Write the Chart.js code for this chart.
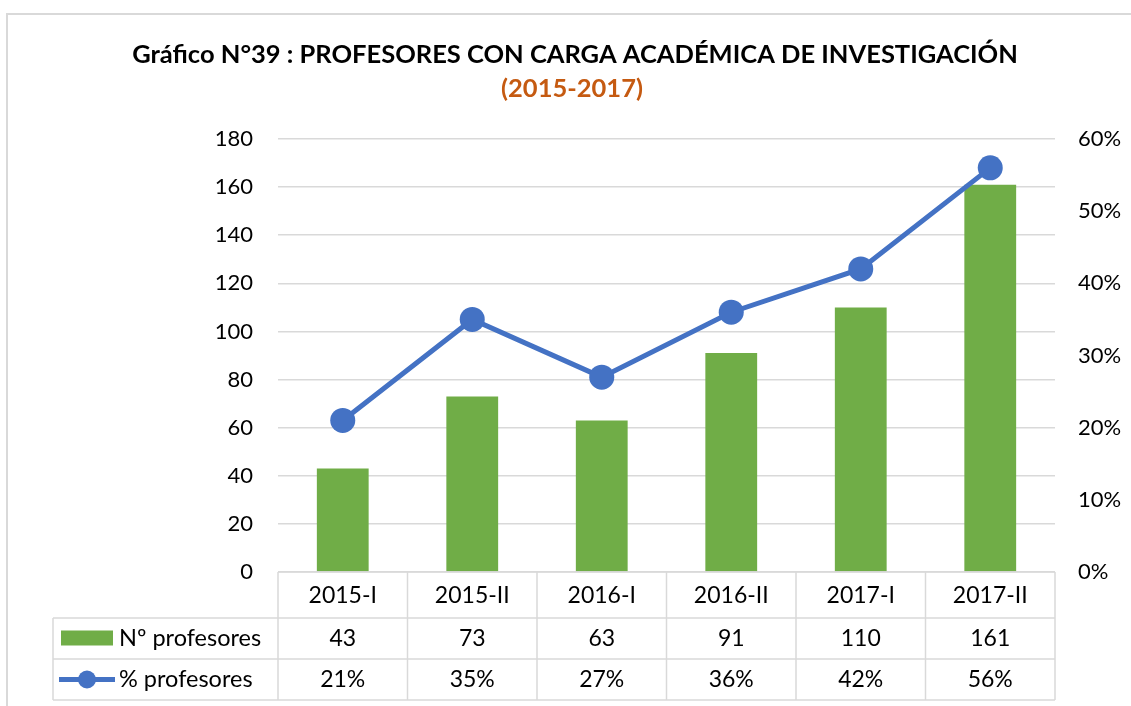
<!DOCTYPE html>
<html>
<head>
<meta charset="utf-8">
<script src="https://cdn.jsdelivr.net/npm/chart.js@4.4.1/dist/chart.umd.min.js"></script>
<style>
  html, body { margin: 0; padding: 0; background: #fff; }
</style>
</head>
<body>
<canvas id="grafico" width="1131" height="706"></canvas>
<script>
// Datos del gráfico
const periodos = ['2015-I', '2015-II', '2016-I', '2016-II', '2017-I', '2017-II'];
const nProfesores = [43, 73, 63, 91, 110, 161];
const pctProfesores = [21, 35, 27, 36, 42, 56];
const etiquetaN = 'Nº profesores';
const etiquetaPct = '% profesores';

const VERDE = '#70AD47';
const AZUL = '#4472C4';
const GRIS = '#d9d9d9';
const FUENTE = 'Lato, "Open Sans", sans-serif';
const TAM = 22;

// Marco, título y tabla de datos bajo el gráfico
const tablaDatos = {
    id: 'tablaDatos',
    beforeDraw(chart) {
        const ctx = chart.ctx;
        ctx.save();
        ctx.fillStyle = '#fff';
        ctx.fillRect(0, 0, chart.width, chart.height);
        ctx.strokeStyle = GRIS;
        ctx.lineWidth = 2;
        ctx.strokeRect(7, 14, 1200, 800);

        ctx.textAlign = 'center';
        ctx.textBaseline = 'middle';
        ctx.fillStyle = '#000';
        ctx.font = 'bold 25.5px ' + FUENTE;
        ctx.fillText('Gráfico N°39 : PROFESORES CON CARGA ACADÉMICA DE INVESTIGACIÓN', 575, 55);
        ctx.fillStyle = '#C55A11';
        ctx.fillText('(2015-2017)', 572, 89);
        ctx.restore();
    },
    afterDraw(chart) {
        const ctx = chart.ctx;
        const a = chart.chartArea;
        const x = chart.scales.x;
        const ancho = (a.right - a.left) / periodos.length;
        const filas = [a.bottom, 618, 659, 700];
        const izqLeyenda = 53;

        ctx.save();
        ctx.strokeStyle = GRIS;
        ctx.lineWidth = 1.5;
        ctx.beginPath();
        ctx.moveTo(a.left, filas[0]);
        ctx.lineTo(a.right, filas[0]);
        for (let r = 1; r < filas.length; r++) {
            ctx.moveTo(izqLeyenda, filas[r]);
            ctx.lineTo(a.right, filas[r]);
        }
        for (let i = 0; i <= periodos.length; i++) {
            const xx = a.left + i * ancho;
            ctx.moveTo(xx, filas[0]);
            ctx.lineTo(xx, filas[3]);
        }
        ctx.moveTo(izqLeyenda, filas[1]);
        ctx.lineTo(izqLeyenda, filas[3]);
        ctx.stroke();

        ctx.fillStyle = '#000';
        ctx.font = '23px ' + FUENTE;
        ctx.textAlign = 'center';
        ctx.textBaseline = 'middle';
        periodos.forEach((p, i) => {
            const cx = x.getPixelForValue(i);
            ctx.fillText(p, cx, (filas[0] + filas[1]) / 2 + 1);
            ctx.fillText(String(nProfesores[i]), cx, (filas[1] + filas[2]) / 2);
            ctx.fillText(pctProfesores[i] + '%', cx, (filas[2] + filas[3]) / 2);
        });

        // Leyenda dentro de la tabla
        const y2 = (filas[1] + filas[2]) / 2;
        const y3 = (filas[2] + filas[3]) / 2;
        ctx.fillStyle = VERDE;
        ctx.fillRect(61, y2 - 8, 52, 15);
        ctx.strokeStyle = AZUL;
        ctx.lineWidth = 5;
        ctx.beginPath();
        ctx.moveTo(59, y3);
        ctx.lineTo(115, y3);
        ctx.stroke();
        ctx.fillStyle = AZUL;
        ctx.beginPath();
        ctx.arc(87, y3, 9, 0, Math.PI * 2);
        ctx.fill();

        ctx.fillStyle = '#000';
        ctx.textAlign = 'left';
        ctx.font = '23.5px ' + FUENTE;
        ctx.fillText(etiquetaN, 119, y2);
        ctx.fillText(etiquetaPct, 119, y3);
        ctx.restore();
    }
};

const ctx = document.getElementById('grafico').getContext('2d');
const grafico = new Chart(ctx, {
    type: 'bar',
    data: {
        labels: periodos,
        datasets: [{
            type: 'line',
            label: etiquetaPct,
            data: pctProfesores,
            yAxisID: 'y1',
            borderColor: AZUL,
            backgroundColor: AZUL,
            borderWidth: 5,
            pointRadius: 12.5,
            pointHoverRadius: 12.5,
            pointBorderWidth: 0,
            pointBackgroundColor: AZUL,
            order: 0
        }, {
            label: etiquetaN,
            data: nProfesores,
            yAxisID: 'y',
            backgroundColor: VERDE,
            barPercentage: 0.4,
            categoryPercentage: 1.0,
            order: 1
        }]
    },
    options: {
        responsive: false,
        devicePixelRatio: 1,
        animation: false,
        layout: { padding: { top: 139, bottom: 134, left: 0, right: 0 } },
        plugins: {
            legend: { display: false },
            title: { display: false },
            tooltip: { enabled: false }
        },
        scales: {
            x: { display: false },
            y: {
                position: 'left',
                min: 0,
                max: 180,
                ticks: { stepSize: 20, padding: 25, color: '#000', font: { family: FUENTE, size: TAM } },
                grid: { color: GRIS, lineWidth: 1.5, drawTicks: false },
                border: { display: false },
                afterFit(s) { s.width = 278; }
            },
            y1: {
                position: 'right',
                min: 0,
                max: 60,
                ticks: {
                    stepSize: 10,
                    padding: 23,
                    color: '#000',
                    font: { family: FUENTE, size: TAM },
                    callback: v => v + '%'
                },
                grid: { drawOnChartArea: false, drawTicks: false },
                border: { display: false },
                afterFit(s) { s.width = 76; }
            }
        }
    },
    plugins: [tablaDatos]
});
</script>
</body>
</html>
